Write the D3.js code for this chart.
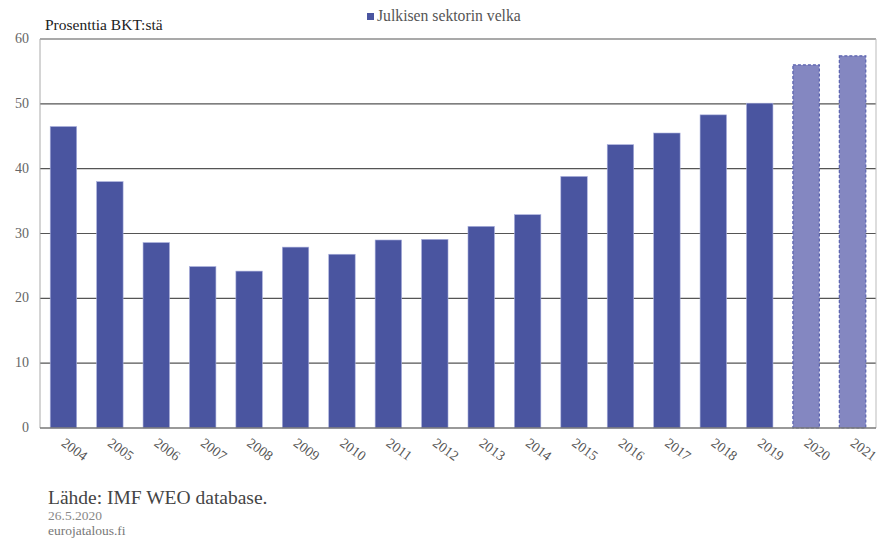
<!DOCTYPE html>
<html><head><meta charset="utf-8">
<script src="https://cdn.jsdelivr.net/npm/d3@7"></script>
<style>body{margin:0;background:#fff;} svg{display:block;}</style>
</head><body>
<script>
const years = ["2004","2005","2006","2007","2008","2009","2010","2011","2012","2013","2014","2015","2016","2017","2018","2019","2020","2021"];
const debt = [46.5,38.0,28.6,24.9,24.2,27.9,26.8,29.0,29.1,31.1,32.9,38.8,43.7,45.5,48.3,50.1,56.0,57.4];
const forecastYears = ["2020","2021"];
const yTicks = [0,10,20,30,40,50,60];
const seriesName = "Julkisen sektorin velka";

const W=880,H=538;
const m={left:40,right:876,top:39,bottom:428};
const font="'Liberation Serif', 'DejaVu Serif', serif";
const svg=d3.select("body").append("svg").attr("width",W).attr("height",H).style("font-family",font);

const x=d3.scaleBand().domain(years).range([m.left,m.right]).paddingInner(0.43).paddingOuter(0.22);
const y=d3.scaleLinear().domain([0,60]).range([m.bottom,m.top]);

// gridlines
svg.append("g").selectAll("line").data(yTicks.filter(d=>d>0)).join("line")
  .attr("x1",m.left).attr("x2",m.right).attr("y1",d=>y(d)).attr("y2",d=>y(d))
  .attr("stroke","#555").attr("stroke-width",1.2);
// right border
svg.append("line").attr("x1",m.right).attr("x2",m.right).attr("y1",m.top).attr("y2",m.bottom).attr("stroke","#bbb");
// left axis
svg.append("line").attr("x1",m.left).attr("x2",m.left).attr("y1",m.top).attr("y2",m.bottom).attr("stroke","#aaa");

// bars
const data=years.map((yr,i)=>({year:yr,value:debt[i],fc:forecastYears.includes(yr)}));
svg.append("g").selectAll("rect").data(data).join("rect")
  .attr("x",d=>x(d.year)).attr("width",x.bandwidth())
  .attr("y",d=>y(d.value)).attr("height",d=>y(0)-y(d.value))
  .attr("fill",d=>d.fc?"#8487c1":"#4a55a0")
  .attr("stroke",d=>d.fc?"#5a62b0":"#aab0dd")
  .attr("stroke-width",d=>d.fc?1.2:0.6)
  .attr("stroke-dasharray",d=>d.fc?"3,2":null);

// bottom axis line
svg.append("line").attr("x1",m.left).attr("x2",m.right).attr("y1",y(0)).attr("y2",y(0)).attr("stroke","#777").attr("stroke-width",1.5);

// y tick labels
svg.append("g").selectAll("text").data(yTicks).join("text")
  .attr("x",29).attr("y",d=>y(d)+4).attr("text-anchor","end")
  .attr("font-size",14).attr("fill","#666").text(d=>d);

// x labels
svg.append("g").selectAll("text").data(years).join("text")
  .attr("transform",d=>`translate(${x(d)+x.bandwidth()/2-3},${445}) rotate(36)`)
  .attr("font-size",14).attr("fill","#555").text(d=>d);

// title
svg.append("text").attr("x",45).attr("y",30).attr("font-size",15.5).attr("fill","#222").text("Prosenttia BKT:stä");

// legend
svg.append("rect").attr("x",367).attr("y",13).attr("width",7).attr("height",7).attr("fill","#4a55a0");
svg.append("text").attr("x",377).attr("y",21).attr("font-size",15.7).attr("fill","#555").text(seriesName);

// source
svg.append("text").attr("x",48).attr("y",504).attr("font-size",19.5).attr("fill","#444").text("Lähde: IMF WEO database.");
svg.append("text").attr("x",48).attr("y",520).attr("font-size",13.5).attr("fill","#888").text("26.5.2020");
svg.append("text").attr("x",48).attr("y",535).attr("font-size",13.5).attr("fill","#777").text("eurojatalous.fi");
</script>
</body></html>
